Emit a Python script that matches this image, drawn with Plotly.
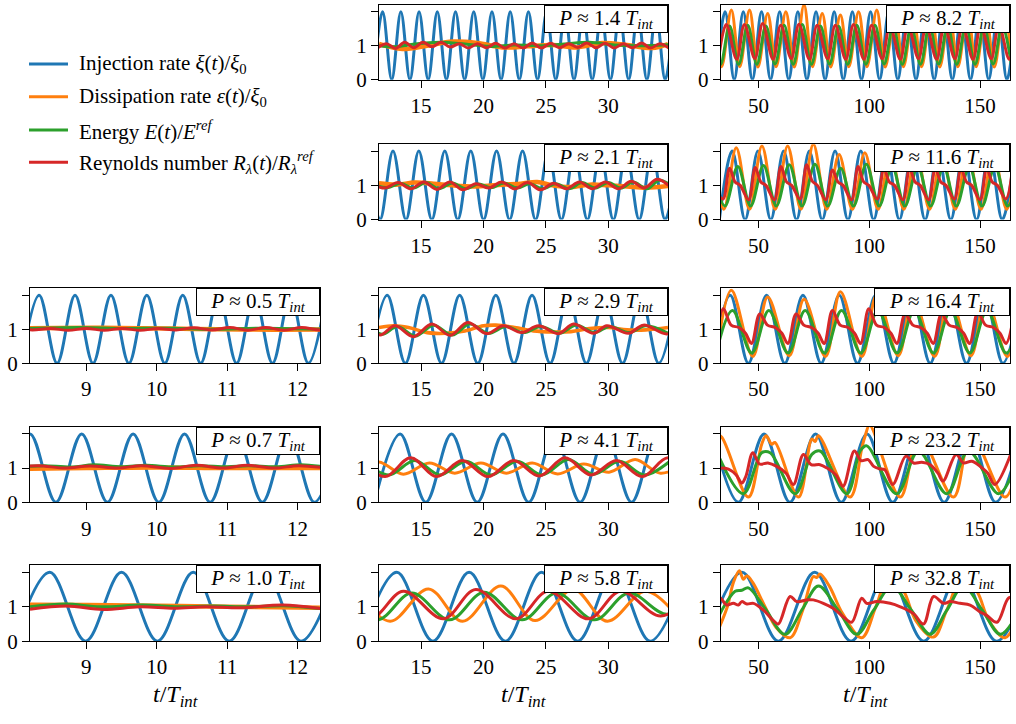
import plotly.graph_objects as go

# ---------------- data: (t/T_int, value) turning points ----------------
# ---- column 1 ----
P05_inj = [(8.075,0),(8.33,2),(8.585,0),(8.84,2),(9.095,0),(9.35,2),(9.605,0),(9.86,2),(10.115,0),(10.37,2),(10.625,0),(10.88,2),(11.135,0),(11.39,2),(11.645,0),(11.90,2),(12.155,0),(12.41,2)]
P05_dis = [(8.2,1.03),(9.2,1.04),(10.2,1.02),(11.2,0.99),(12.32,0.99)]
P05_ene = [(8.2,1.02),(8.9,1.05),(9.5,1.02),(10.2,1.03),(10.8,1.0),(11.5,1.03),(12.32,1.0)]
P05_rey = [(7.98,1.02),(8.235,0.98),(8.49,1.02),(8.745,0.97),(9.0,1.02),(9.255,0.97),(9.51,1.02),(9.765,0.97),(10.02,1.02),(10.275,0.98),(10.53,1.04),(10.785,0.98),(11.04,1.05),(11.295,0.97),(11.55,1.05),(11.805,0.97),(12.06,1.05),(12.315,0.98),(12.57,1.04)]

P07_inj = [(7.835,0),(8.2,2),(8.568,0),(8.934,2),(9.30,0),(9.665,2),(10.03,0),(10.395,2),(10.76,0),(11.13,2),(11.50,0),(11.87,2),(12.24,0),(12.61,2)]
P07_dis = [(8.2,0.98),(9.0,1.0),(10.0,1.02),(11.0,1.0),(12.32,1.0)]
P07_ene = [(8.2,1.05),(8.4,1.07),(8.8,1.03),(9.1,1.1),(9.5,1.04),(9.85,1.08),(10.25,1.03),(10.6,1.07),(11.0,1.04),(11.3,1.07),(11.7,1.04),(12.05,1.1),(12.32,1.05)]
P07_rey = [(8.0,1.03),(8.32,1.07),(8.70,1.0),(9.05,1.06),(9.45,1.0),(9.78,1.07),(10.2,0.99),(10.56,1.08),(10.94,1.0),(11.29,1.08),(11.67,1.0),(12.02,1.07),(12.4,1.0)]

P10_inj = [(7.97,0),(8.48,2),(8.99,0),(9.50,2),(10.01,0),(10.52,2),(11.03,0),(11.54,2),(12.05,0),(12.56,2)]
P10_dis = [(8.2,1.06),(9.0,1.05),(10.0,1.03),(11.0,1.0),(12.32,0.97)]
P10_ene = [(8.2,1.0),(8.7,1.08),(9.2,1.0),(9.8,1.05),(10.3,1.0),(10.8,1.02),(11.3,1.0),(11.8,1.03),(12.32,0.95)]
P10_rey = [(8.2,0.93),(8.72,1.02),(9.24,0.92),(9.76,1.0),(10.25,0.96),(10.7,1.0),(11.2,0.97),(11.79,1.05),(12.32,0.95)]

# ---- column 2 ----
P14_inj = [(11.19,0),(11.92,2),(12.65,0),(13.38,2),(14.11,0),(14.84,2),(15.57,0),(16.30,2),(17.03,0),(17.76,2),(18.49,0),(19.22,2),(19.95,0),(20.68,2),(21.41,0),(22.14,2),(22.87,0),(23.60,2),(24.33,0),(25.06,2),(25.79,0),(26.52,2),(27.25,0),(27.98,2),(28.71,0),(29.44,2),(30.17,0),(30.90,2),(31.63,0),(32.36,2),(33.09,0),(33.82,2),(34.55,0),(35.28,2)]
P14_dis = [(11.63,1.05),(13.5,0.9),(15.5,1.0),(17.5,1.12),(19.5,1.08),(21.5,0.95),(23.5,0.98),(25.5,1.02),(27.5,0.95),(29.5,1.08),(31.5,1.02),(33.5,0.93),(34.78,1.05)]
P14_ene = [(11.63,1.0),(13.0,0.97),(14.5,1.05),(16.5,1.1),(18.5,1.05),(20.5,0.98),(22.5,1.02),(24.5,1.0),(26.5,1.05),(28.5,1.1),(30.5,1.02),(32.5,1.0),(34.78,1.03)]
P14_rey = [(11.49,0.93),(12.22,1.06),(12.95,0.92),(13.68,1.1),(14.41,0.94),(15.14,1.1),(15.87,0.97),(16.60,1.1),(17.33,0.96),(18.06,1.06),(18.79,0.93),(19.52,1.06),(20.25,0.94),(20.98,1.07),(21.71,0.93),(22.44,1.06),(23.17,0.93),(23.90,1.08),(24.63,0.93),(25.36,1.07),(26.09,0.94),(26.82,1.06),(27.55,0.95),(28.28,1.08),(29.01,0.94),(29.74,1.07),(30.47,0.93),(31.20,1.06),(31.93,0.94),(32.66,1.08),(33.39,0.93),(34.12,1.06),(34.85,0.93)]

P21_inj = [(10.67,2),(11.71,0),(12.75,2),(13.79,0),(14.82,2),(15.86,0),(16.90,2),(17.94,0),(18.98,2),(20.01,0),(21.05,2),(22.09,0),(23.13,2),(24.17,0),(25.20,2),(26.24,0),(27.28,2),(28.32,0),(29.36,2),(30.40,0),(31.43,2),(32.47,0),(33.51,2),(34.55,0),(35.59,2)]
P21_dis = [(11.63,1.06),(13.0,1.02),(14.5,1.08),(16.0,1.05),(17.5,1.0),(19.5,0.97),(21.5,1.02),(23.0,1.05),(24.3,1.1),(25.5,1.0),(27.0,0.95),(28.5,1.02),(30.0,1.0),(31.5,0.97),(33.0,0.93),(34.78,0.98)]
P21_ene = [(11.0,1.05),(12.3,0.93),(13.35,1.06),(14.4,0.92),(15.4,1.08),(16.45,0.9),(17.5,1.07),(18.55,0.9),(19.6,1.04),(20.6,0.93),(21.65,1.07),(22.7,0.92),(23.7,1.05),(24.75,0.9),(25.8,1.05),(26.85,0.9),(27.9,1.08),(28.9,0.92),(30.0,1.08),(31.0,0.92),(32.0,1.1),(33.1,0.9),(34.1,1.15),(35.1,0.97)]
P21_rey = [(11.07,1.05),(12.11,0.92),(13.15,1.08),(14.19,0.9),(15.22,1.1),(16.26,0.88),(17.30,1.1),(18.34,0.87),(19.38,1.05),(20.41,0.92),(21.45,1.1),(22.49,0.9),(23.53,1.08),(24.57,0.87),(25.60,1.06),(26.64,0.9),(27.68,1.1),(28.72,0.9),(29.76,1.1),(30.80,0.9),(31.83,1.12),(32.87,0.92),(33.91,1.18),(34.95,0.96)]

P29_inj = [(10.84,0),(12.29,2),(13.74,0),(15.19,2),(16.64,0),(18.09,2),(19.54,0),(20.99,2),(22.44,0),(23.89,2),(25.34,0),(26.79,2),(28.24,0),(29.69,2),(31.14,0),(32.59,2),(34.04,0),(35.49,2)]
P29_dis = [(11.63,1.05),(12.8,1.1),(14.0,1.05),(15.5,0.9),(17.0,0.88),(18.5,0.95),(20.0,1.1),(21.0,1.12),(22.5,1.05),(24.0,0.95),(25.5,0.92),(27.0,0.93),(28.5,1.02),(30.0,1.05),(31.5,0.98),(33.0,0.98),(34.78,1.05)]
P29_ene = [(10.9,1.08),(11.9,0.85),(13.1,1.08),(14.55,0.8),(16.0,1.12),(17.5,0.83),(18.9,1.15),(20.4,0.88),(21.8,1.08),(23.2,0.9),(24.6,1.08),(26.1,0.88),(27.4,1.12),(28.9,0.9),(30.1,1.08),(31.7,0.9),(33.0,1.1),(34.8,0.88)]
P29_rey = [(10.8,1.1),(11.72,0.83),(12.92,1.1),(14.39,0.78),(15.86,1.15),(17.32,0.82),(18.74,1.2),(20.26,0.87),(21.6,1.1),(23.07,0.9),(24.4,1.1),(26.0,0.87),(27.21,1.15),(28.81,0.88),(29.88,1.1),(31.61,0.88),(32.82,1.12),(34.69,0.86),(35.9,1.1)]

P41_inj = [(11.26,0),(13.32,2),(15.38,0),(17.44,2),(19.50,0),(21.56,2),(23.62,0),(25.68,2),(27.74,0),(29.80,2),(31.86,0),(33.92,2),(35.98,0)]
P41_dis = [(9.5,0.82),(11.55,1.18),(13.58,0.82),(15.67,1.15),(17.70,0.85),(19.79,1.15),(21.82,0.85),(23.91,1.15),(25.94,0.83),(28.03,1.12),(30.06,0.88),(32.15,1.25),(34.18,0.85),(36.27,1.15)]
P41_ene = [(10.4,1.2),(12.4,0.8),(14.5,1.22),(16.5,0.8),(18.6,1.2),(20.6,0.8),(22.7,1.2),(24.7,0.8),(26.8,1.25),(28.8,0.82),(30.9,1.2),(32.9,0.8),(35.0,1.22)]
P41_rey = [(10.05,1.25),(12.12,0.75),(14.17,1.3),(16.24,0.75),(18.29,1.22),(20.36,0.75),(22.41,1.22),(24.48,0.77),(26.53,1.3),(28.60,0.8),(30.65,1.22),(32.72,0.75),(34.77,1.3),(36.84,0.78)]

P58_inj = [(10.15,0),(13.05,2),(15.95,0),(18.85,2),(21.75,0),(24.65,2),(27.55,0),(30.45,2),(33.35,0),(36.25,2)]
P58_dis = [(9.8,1.5),(12.52,0.58),(15.59,1.52),(18.32,0.58),(21.39,1.6),(24.12,0.6),(27.19,1.5),(29.92,0.58),(32.99,1.45),(35.8,0.6)]
P58_ene = [(8.6,1.4),(11.5,0.62),(14.25,1.4),(17.3,0.62),(20.05,1.42),(23.1,0.62),(25.85,1.4),(28.9,0.62),(31.65,1.4),(34.7,0.78),(37.5,1.4)]
P58_rey = [(8.0,1.45),(11.0,0.68),(13.58,1.45),(16.8,0.65),(19.38,1.5),(22.6,0.65),(25.18,1.45),(28.4,0.65),(30.98,1.45),(34.2,0.73),(36.8,1.4)]

# ---- column 3 ----
P82_inj = [(30.9,0),(35.0,2),(39.1,0),(43.2,2),(47.3,0),(51.4,2),(55.5,0),(59.6,2),(63.7,0),(67.8,2),(71.9,0),(76.0,2),(80.1,0),(84.2,2),(88.3,0),(92.4,2),(96.5,0),(100.6,2),(104.7,0),(108.8,2),(112.9,0),(117.0,2),(121.1,0),(125.2,2),(129.3,0),(133.4,2),(137.5,0),(141.6,2),(145.7,0),(149.8,2),(153.9,0),(158.0,2),(162.1,0),(166.2,2)]
P82_dis = [(29.6,2.0),(33.4,0.38),(37.8,2.05),(41.6,0.38),(46.0,2.05),(49.8,0.37),(54.2,1.95),(58.0,0.38),(62.4,2.0),(66.2,0.37),(70.6,2.2),(74.4,0.38),(78.8,1.95),(82.6,0.37),(87.0,1.9),(90.8,0.38),(95.2,2.0),(99.0,0.38),(103.4,2.05),(107.2,0.37),(111.6,1.95),(115.4,0.38),(119.8,1.9),(123.6,0.38),(128.0,2.0),(131.8,0.37),(136.2,1.95),(140.0,0.38),(144.4,2.0),(148.2,0.38),(152.6,1.95),(156.4,0.37),(160.8,2.0),(164.6,0.38)]
P82_ene = [(28.8,1.58),(32.9,0.45),(37.0,1.58),(41.1,0.45),(45.2,1.6),(49.3,0.45),(53.4,1.58),(57.5,0.46),(61.6,1.6),(65.7,0.45),(69.8,1.62),(73.9,0.45),(78.0,1.58),(82.1,0.46),(86.2,1.57),(90.3,0.45),(94.4,1.6),(98.5,0.45),(102.6,1.6),(106.7,0.46),(110.8,1.58),(114.9,0.45),(119.0,1.57),(123.1,0.45),(127.2,1.6),(131.3,0.46),(135.4,1.58),(139.5,0.45),(143.6,1.6),(147.7,0.45),(151.8,1.58),(155.9,0.46),(160.0,1.6),(164.1,0.45)]
P82_rey = [(32.0,0.6),(35.5,1.62),(40.2,0.6),(43.7,1.62),(48.4,0.62),(51.9,1.65),(56.6,0.6),(60.1,1.6),(64.8,0.62),(68.3,1.63),(73.0,0.6),(76.5,1.6),(81.2,0.62),(84.7,1.6),(89.4,0.6),(92.9,1.62),(97.6,0.6),(101.1,1.6),(105.8,0.62),(109.3,1.6),(114.0,0.6),(117.5,1.6),(122.2,0.62),(125.7,1.58),(130.4,0.6),(133.9,1.6),(138.6,0.62),(142.1,1.6),(146.8,0.6),(150.3,1.6),(155.0,0.62),(158.5,1.6),(163.2,0.6),(166.7,1.6)]

P116_inj = [(32.4,0),(38.2,2),(44.0,0),(49.8,2),(55.6,0),(61.4,2),(67.2,0),(73.0,2),(78.8,0),(84.6,2),(90.4,0),(96.2,2),(102.0,0),(107.8,2),(113.6,0),(119.4,2),(125.2,0),(131.0,2),(136.8,0),(142.6,2),(148.4,0),(154.2,2),(160.0,0),(165.8,2)]
P116_dis = [(28.4,2.0),(34.4,0.3),(40.0,2.1),(46.0,0.3),(51.6,2.15),(57.6,0.3),(63.2,2.15),(69.2,0.3),(74.8,2.2),(80.8,0.3),(86.4,1.9),(92.4,0.3),(98.0,1.95),(104.0,0.3),(109.6,2.0),(115.6,0.3),(121.2,2.0),(127.2,0.3),(132.8,1.95),(138.8,0.3),(144.4,2.0),(150.4,0.3),(156.0,2.0),(162.0,0.3),(167.6,2.0)]
P116_ene = [(29.0,1.55),(34.9,0.4),(40.7,1.55),(46.5,0.4),(52.3,1.58),(58.1,0.4),(63.9,1.6),(69.7,0.4),(75.5,1.62),(81.3,0.4),(87.1,1.5),(92.9,0.4),(98.7,1.62),(104.5,0.4),(110.3,1.55),(116.1,0.4),(121.9,1.55),(127.7,0.4),(133.5,1.55),(139.3,0.4),(145.1,1.55),(150.9,0.4),(156.7,1.55),(162.5,0.4),(168.3,1.55)]
P116_rey = [(30.0,1.0),(34.0,0.6),
            (37.0,1.5),(39.5,1.1),(41.8,1.0),(45.6,0.58),
            (48.6,1.52),(51.1,1.1),(53.4,1.0),(57.2,0.58),
            (60.2,1.55),(62.7,1.1),(65.0,1.0),(68.8,0.6),
            (71.8,1.6),(74.3,1.12),(76.6,1.0),(80.4,0.58),
            (83.4,1.45),(85.9,1.1),(88.2,1.0),(92.0,0.58),
            (95.0,1.55),(97.5,1.1),(99.8,1.0),(103.6,0.6),
            (106.6,1.5),(109.1,1.1),(111.4,1.0),(115.2,0.58),
            (118.2,1.5),(120.7,1.1),(123.0,1.0),(126.8,0.58),
            (129.8,1.5),(132.3,1.1),(134.6,1.0),(138.4,0.6),
            (141.4,1.5),(143.9,1.1),(146.2,1.0),(150.0,0.58),
            (153.0,1.5),(155.5,1.1),(157.8,1.0),(161.6,0.6),
            (164.6,1.5)]

P164_inj = [(29.1,0),(37.3,2),(45.5,0),(53.7,2),(61.9,0),(70.1,2),(78.3,0),(86.5,2),(94.7,0),(102.9,2),(111.1,0),(119.3,2),(127.5,0),(135.7,2),(143.9,0),(152.1,2),(160.3,0),(168.5,2)]
P164_dis = [(31.1,0.2),(37.8,2.15),(47.5,0.2),(54.2,1.95),(63.9,0.22),(70.6,1.88),(80.3,0.2),(87.0,2.1),(96.7,0.2),(103.4,2.0),(113.1,0.22),(119.8,1.95),(129.5,0.2),(136.2,2.0),(145.9,0.22),(152.6,1.95),(162.3,0.2),(169.0,2.0)]
P164_ene = [(31.0,0.3),(38.3,1.55),(47.0,0.3),(54.7,1.55),(63.4,0.3),(71.1,1.55),(79.8,0.3),(87.5,1.55),(96.2,0.3),(103.9,1.55),(112.6,0.3),(120.3,1.55),(129.0,0.3),(136.7,1.55),(145.4,0.3),(153.1,1.55),(161.8,0.3),(169.5,1.55)]
P164_rey = [(30.5,0.6),
            (34.2,1.6),(37.7,1.12),(41.2,1.05),(44.2,0.88),(46.9,0.58),
            (50.6,1.45),(54.1,1.12),(57.6,1.05),(60.6,0.88),(63.3,0.58),
            (67.0,1.45),(70.5,1.12),(74.0,1.05),(77.0,0.88),(79.7,0.58),
            (83.4,1.55),(86.9,1.12),(90.4,1.05),(93.4,0.88),(96.1,0.58),
            (99.8,1.6),(103.3,1.12),(106.8,1.05),(109.8,0.88),(112.5,0.58),
            (116.2,1.45),(119.7,1.12),(123.2,1.05),(126.2,0.88),(128.9,0.58),
            (132.6,1.45),(136.1,1.12),(139.6,1.05),(142.6,0.88),(145.3,0.58),
            (149.0,1.5),(152.5,1.12),(156.0,1.05),(159.0,0.88),(161.7,0.58),
            (165.4,1.5)]

P232_inj = [(29.4,2),(41.0,0),(52.6,2),(64.2,0),(75.8,2),(87.4,0),(99.0,2),(110.6,0),(122.2,2),(133.8,0),(145.4,2),(157.0,0),(168.6,2)]
P232_dis = [(31.0,2.0),(33.5,1.9),(45.5,0.15),(51.5,1.7),(53.5,1.95),(56.0,1.7),(57.5,1.75),(68.1,0.15),(74.1,1.85),(75.6,1.78),(77.1,1.95),(91.4,0.15),(96.7,1.6),(98.2,1.95),(100.2,2.25),(114.0,0.15),(122.5,1.95),(138.0,0.15),(146.0,1.95),(161.3,0.15),(168.0,1.5)]
P232_ene = [(31.0,1.5),(43.2,0.25),(51.5,1.45),(55.3,1.45),(66.6,0.25),(74.1,1.4),(77.8,1.5),(89.9,0.25),(95.9,1.5),(98.9,1.65),(112.4,0.25),(122.2,1.5),(135.0,0.25),(144.8,1.5),(158.3,0.25),(165.0,0.9)]
P232_rey = [(33.0,1.0),(36.5,0.97),(40.0,0.8),(42.5,0.56),(44.3,0.75),(47.5,1.45),(50.5,1.12),(54.3,1.15),(58.3,1.05),(62.5,0.85),(65.8,0.52),(70.3,1.4),(73.8,1.1),(77.8,1.1),(81.0,1.0),(85.0,0.8),(88.2,0.47),(93.3,1.5),(96.3,1.22),(99.5,1.25),(102.0,1.05),(104.5,0.98),(107.0,0.95),(110.6,0.52),(116.5,1.35),(120.0,1.15),(123.7,1.17),(127.5,1.1),(131.0,0.85),(133.3,0.62),(139.2,1.4),(142.5,1.15),(146.3,1.2),(151.0,1.0),(153.5,0.85),(156.6,0.52),(163.8,1.4)]

P328_inj = [(26.2,0),(42.6,2),(59.0,0),(75.4,2),(91.8,0),(108.2,2),(124.6,0),(141.0,2),(157.4,0),(173.8,2)]
P328_dis = [(30.5,0.12),(36.0,1.0),(38.7,1.7),(41.4,2.05),(43.2,1.8),(44.8,1.9),(47.5,1.7),(53.0,1.0),(58.0,0.4),(64.3,0.1),(70.0,0.9),(74.8,1.88),(76.3,1.85),(77.8,1.95),(82.0,1.6),(88.0,0.8),(96.6,0.1),(103.0,1.0),(109.4,2.0),(116.0,1.4),(121.0,0.6),(129.0,0.12),(135.0,0.9),(142.5,1.95),(149.0,1.4),(154.0,0.6),(161.3,0.1),(168.0,0.9)]
P328_ene = [(30.0,0.4),(33.5,0.9),(39.5,1.45),(42.5,1.48),(45.5,1.55),(53.0,0.95),(62.0,0.2),(70.0,0.95),(77.1,1.6),(86.0,0.9),(94.4,0.2),(102.0,0.9),(110.2,1.6),(119.0,0.9),(127.5,0.2),(135.0,0.9),(142.5,1.6),(151.0,0.9),(159.1,0.2),(166.0,0.7)]
P328_rey = [(31.0,1.3),(33.0,1.25),(35.7,1.05),(38.7,1.1),(41.0,1.05),(42.5,1.15),(44.8,1.08),(47.8,1.1),(52.3,0.9),(56.8,0.6),(59.0,0.5),(64.3,1.3),(67.3,1.15),(71.8,1.2),(74.8,1.2),(79.3,1.1),(83.9,0.95),(88.4,0.7),(92.1,0.55),(96.6,1.25),(98.9,1.1),(103.4,1.15),(109.4,1.1),(114.0,1.0),(120.0,0.8),(124.5,0.5),(129.0,1.3),(133.5,1.1),(136.5,1.15),(141.0,1.1),(145.5,1.05),(150.0,0.85),(153.0,0.75),(157.6,0.55),(162.8,1.25),(166.0,1.3)]

# panel labels (P / T_int) and axis ticks
LABELS = ["0.5", "0.7", "1.0", "1.4", "2.1", "2.9", "4.1", "5.8", "8.2", "11.6", "16.4", "23.2", "32.8"]
X_RANGE = {1: [8.2, 12.32], 2: [11.63, 34.78], 3: [33.0, 163.5]}
X_TICKS = {1: [9, 10, 11, 12], 2: [15, 20, 25, 30], 3: [50, 100, 150]}
Y_TICKS = [0, 1]
Y_MINOR_TICKS = [2]
LEGEND_NAMES = [
    "Injection rate <i>ξ</i>(<i>t</i>)/<i>ξ</i><sub>0</sub>",
    "Dissipation rate <i>ε</i>(<i>t</i>)/<i>ξ</i><sub>0</sub>",
    "Energy <i>E</i>(<i>t</i>)/<i>E<sup>ref</sup></i>",
    "Reynolds number <i>R<sub>λ</sub></i>(<i>t</i>)/<i>R<sub>λ</sub><sup>ref</sup></i>",
]
COLORS = ["#1f77b4", "#ff7f0e", "#2ca02c", "#d62728"]

# grid placement (row, col) -> series
PANELS = [
    (3, 1, LABELS[0], [P05_inj, P05_dis, P05_ene, P05_rey]),
    (4, 1, LABELS[1], [P07_inj, P07_dis, P07_ene, P07_rey]),
    (5, 1, LABELS[2], [P10_inj, P10_dis, P10_ene, P10_rey]),
    (1, 2, LABELS[3], [P14_inj, P14_dis, P14_ene, P14_rey]),
    (2, 2, LABELS[4], [P21_inj, P21_dis, P21_ene, P21_rey]),
    (3, 2, LABELS[5], [P29_inj, P29_dis, P29_ene, P29_rey]),
    (4, 2, LABELS[6], [P41_inj, P41_dis, P41_ene, P41_rey]),
    (5, 2, LABELS[7], [P58_inj, P58_dis, P58_ene, P58_rey]),
    (1, 3, LABELS[8], [P82_inj, P82_dis, P82_ene, P82_rey]),
    (2, 3, LABELS[9], [P116_inj, P116_dis, P116_ene, P116_rey]),
    (3, 3, LABELS[10], [P164_inj, P164_dis, P164_ene, P164_rey]),
    (4, 3, LABELS[11], [P232_inj, P232_dis, P232_ene, P232_rey]),
    (5, 3, LABELS[12], [P328_inj, P328_dis, P328_ene, P328_rey]),
]

# ---------------- layout geometry (pixels) ----------------
W, H = 1016, 724
COL_PX = {1: (30, 320), 2: (379, 668), 3: (720.7, 1010)}
ROW_PX = {1: (5, 81), 2: (146.7, 223.3), 3: (293.3, 369.3), 4: (434.3, 510.7), 5: (575, 652)}
FONT = "Liberation Serif"
THICK_ORANGE = {"0.5", "0.7", "1.0", "1.4", "2.1"}

fig = go.Figure()
layout = {}
annotations = []

for i, (r, c, lab, series) in enumerate(PANELS, start=1):
    xa = "x" if i == 1 else f"x{i}"
    ya = "y" if i == 1 else f"y{i}"
    for k, s in enumerate(series):
        w = 3.0
        if k == 1:
            w = 4.5 if lab in THICK_ORANGE else (3.6 if lab == "2.9" else 3.0)
        fig.add_trace(go.Scatter(
            x=[p[0] for p in s], y=[p[1] for p in s], mode="lines",
            line=dict(color=COLORS[k], width=w, shape="spline", smoothing=1.0),
            xaxis=xa, yaxis=ya, showlegend=False, hoverinfo="skip"))
    x0, x1 = COL_PX[c]
    y0, y1 = ROW_PX[r]
    common = dict(showline=True, mirror=True, linecolor="black", linewidth=1.2,
                  ticks="outside", ticklen=7, tickwidth=1.2, tickcolor="black",
                  showgrid=False, zeroline=False, fixedrange=True,
                  tickfont=dict(family=FONT, size=21, color="black"))
    layout["xaxis" if i == 1 else f"xaxis{i}"] = dict(
        domain=[x0 / W, x1 / W], range=X_RANGE[c], anchor=ya,
        tickmode="array", tickvals=X_TICKS[c], **common)
    layout["yaxis" if i == 1 else f"yaxis{i}"] = dict(
        domain=[1 - y1 / H, 1 - y0 / H], range=[0, 2.2], anchor=xa,
        tickmode="array", tickvals=Y_TICKS,
        minor=dict(tickmode="array", tickvals=Y_MINOR_TICKS, ticks="outside",
                   ticklen=7, tickwidth=1.2, tickcolor="black", showgrid=False),
        **common)
    wbox = 120 if len(lab) <= 3 else 132
    annotations.append(dict(
        xref=f"{xa} domain", yref=f"{ya} domain", x=1, y=1,
        xanchor="right", yanchor="top", showarrow=False,
        text=f"<i>P</i> ≈ {lab} <i>T<sub>int</sub></i>",
        font=dict(family=FONT, size=21, color="black"),
        bgcolor="white", bordercolor="black", borderwidth=1, borderpad=1,
        width=wbox, height=24, align="center"))

# x-axis titles under each column
for c in (1, 2, 3):
    x0, x1 = COL_PX[c]
    annotations.append(dict(
        xref="paper", yref="paper", x=(x0 + x1) / 2 / W, y=1 - 708 / H,
        xanchor="center", yanchor="middle", showarrow=False,
        text="<i>t</i>/<i>T<sub>int</sub></i>",
        font=dict(family=FONT, size=24, color="black")))

# hand-placed legend (top-left empty area)
shapes = []
LEG_Y = [65, 98.3, 132.3, 165]
for name, col, yp in zip(LEGEND_NAMES, COLORS, LEG_Y):
    shapes.append(dict(type="line", xref="paper", yref="paper",
                       x0=29 / W, x1=68 / W, y0=1 - yp / H, y1=1 - yp / H,
                       line=dict(color=col, width=3)))
    annotations.append(dict(
        xref="paper", yref="paper", x=77 / W, y=1 - yp / H,
        xanchor="left", yanchor="middle", showarrow=False, text=name,
        font=dict(family=FONT, size=21, color="black")))

fig.update_layout(
    width=W, height=H, autosize=False,
    margin=dict(l=0, r=0, t=0, b=0),
    paper_bgcolor="white", plot_bgcolor="white",
    annotations=annotations, shapes=shapes, **layout)

fig.write_html("out.html", config={"displayModeBar": False},
               post_script="document.body.style.margin='0';")
